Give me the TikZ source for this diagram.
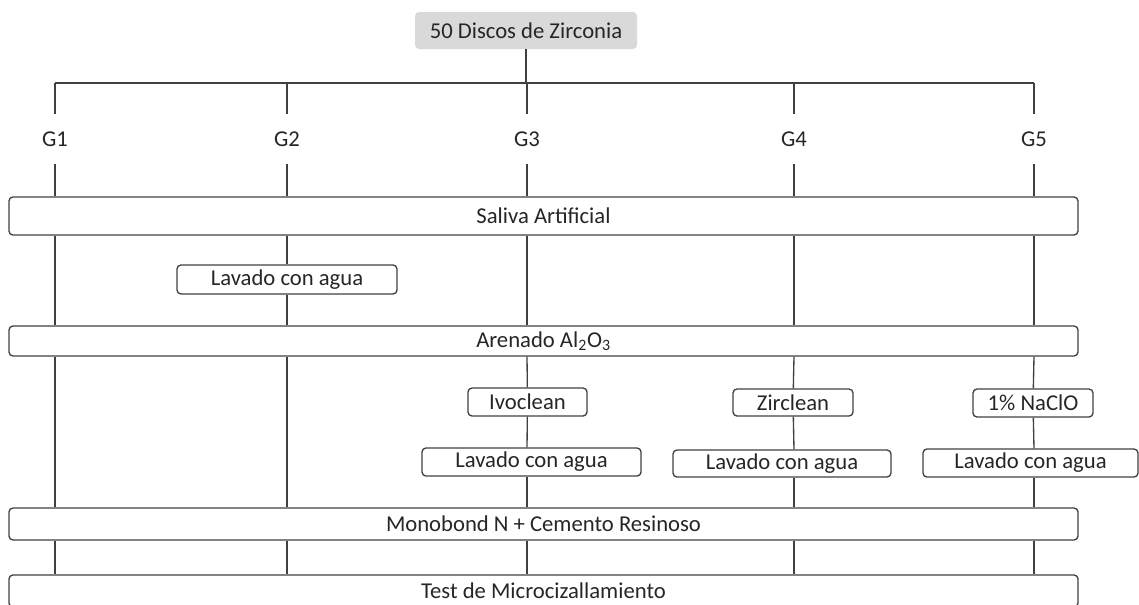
\documentclass[tikz,border=0pt]{standalone}
\usepackage{fontspec}
\setmainfont{Carlito}
\usepackage{tikz}
\definecolor{linegray}{HTML}{404040}
\definecolor{boxgray}{HTML}{D9D9D9}
\definecolor{txtgray}{HTML}{262626}
\tikzset{
	stage/.style={draw=linegray, line width=1pt, rounded corners=3pt, inner sep=0pt, text=txtgray, font=\fontsize{17}{20}\selectfont},
	bigbox/.style={stage, minimum width=801.75pt},
	glabel/.style={inner sep=0pt, minimum height=37.5pt, text=txtgray, font=\fontsize{17}{20}\selectfont},
	link/.style={draw=linegray, line width=1pt}
}

\begin{document}
\begin{tikzpicture}[x=0.75pt, y=-0.75pt]

	\useasboundingbox (0,0) rectangle (1139,604);
	\clip (0,0) rectangle (1139,604);

	\node[fill=boxgray, rounded corners=3pt, inner sep=0pt, minimum width=166.5pt, minimum height=27.75pt, text=txtgray, font=\fontsize{17}{20}\selectfont] (disc) at (526,30.5) {50 Discos de Zirconia};

	\coordinate (h1) at (55,83);
	\coordinate (h2) at (287,83);
	\coordinate (h3) at (527,83);
	\coordinate (h4) at (794,83);
	\coordinate (h5) at (1034,83);

	\node[glabel] (g1) at (55,139) {G1};
	\node[glabel] (g2) at (287,139) {G2};
	\node[glabel] (g3) at (527,139) {G3};
	\node[glabel] (g4) at (794,139) {G4};
	\node[glabel] (g5) at (1034,139) {G5};

	\node[bigbox, minimum height=28.5pt] (sal) at (543.5,216) {Saliva Artificial};
	\node[stage, minimum width=165pt, minimum height=21.75pt] (lav2) at (287,279.5) {Lavado con agua};
	\node[bigbox, minimum height=22.5pt] (are) at (543.5,341) {Arenado Al\textsubscript{2}O\textsubscript{3}};

	\node[stage, minimum width=89.25pt, minimum height=21pt] (ivo) at (527.5,402) {Ivoclean};
	\node[stage, minimum width=90pt, minimum height=20.25pt] (zir) at (793,402.5) {Zirclean};
	\node[stage, minimum width=90pt, minimum height=21pt] (nac) at (1033,403) {1\% NaClO};

	\node[stage, minimum width=164.25pt, minimum height=21pt] (lav3) at (531.5,462) {Lavado con agua};
	\node[stage, minimum width=163.5pt, minimum height=20.25pt] (lav4) at (782,463.5) {Lavado con agua};
	\node[stage, minimum width=161.25pt, minimum height=21pt] (lav5) at (1030.5,463) {Lavado con agua};

	\node[bigbox, minimum height=24pt] (mono) at (543.5,524) {Monobond N + Cemento Resinoso};
	\node[bigbox, minimum height=24pt] (test) at (543.5,591) {Test de Microcizallamiento};

	\draw[link] (disc) -- (disc |- h3);
	\draw[link] (h1) -- (h5);
	\foreach \i in {1,...,5} {
		\draw[link] (h\i) -- (g\i);
		\draw[link] (g\i) -- (g\i |- sal.north);
		\draw[link] (g\i |- mono.south) -- (g\i |- test.north);
	}

	\draw[link] (g1 |- sal.south) -- (g1 |- are.north);
	\draw[link] (g1 |- are.south) -- (g1 |- mono.north);

	\draw[link] (g2 |- sal.south) -- (lav2);
	\draw[link] (lav2) -- (g2 |- are.north);
	\draw[link] (g2 |- are.south) -- (g2 |- mono.north);

	\draw[link] (g3 |- sal.south) -- (g3 |- are.north);
	\draw[link] (g3 |- are.south) -- (ivo);
	\draw[link] (ivo) -- (g3 |- lav3.north);
	\draw[link] (g3 |- lav3.south) -- (g3 |- mono.north);

	\draw[link] (g4 |- sal.south) -- (g4 |- are.north);
	\draw[link] (g4 |- are.south) -- (zir);
	\draw[link] (zir) -- (g4 |- lav4.north);
	\draw[link] (g4 |- lav4.south) -- (g4 |- mono.north);

	\draw[link] (g5 |- sal.south) -- (g5 |- are.north);
	\draw[link] (g5 |- are.south) -- (nac);
	\draw[link] (nac) -- (g5 |- lav5.north);
	\draw[link] (g5 |- lav5.south) -- (g5 |- mono.north);

\end{tikzpicture}
\end{document}
